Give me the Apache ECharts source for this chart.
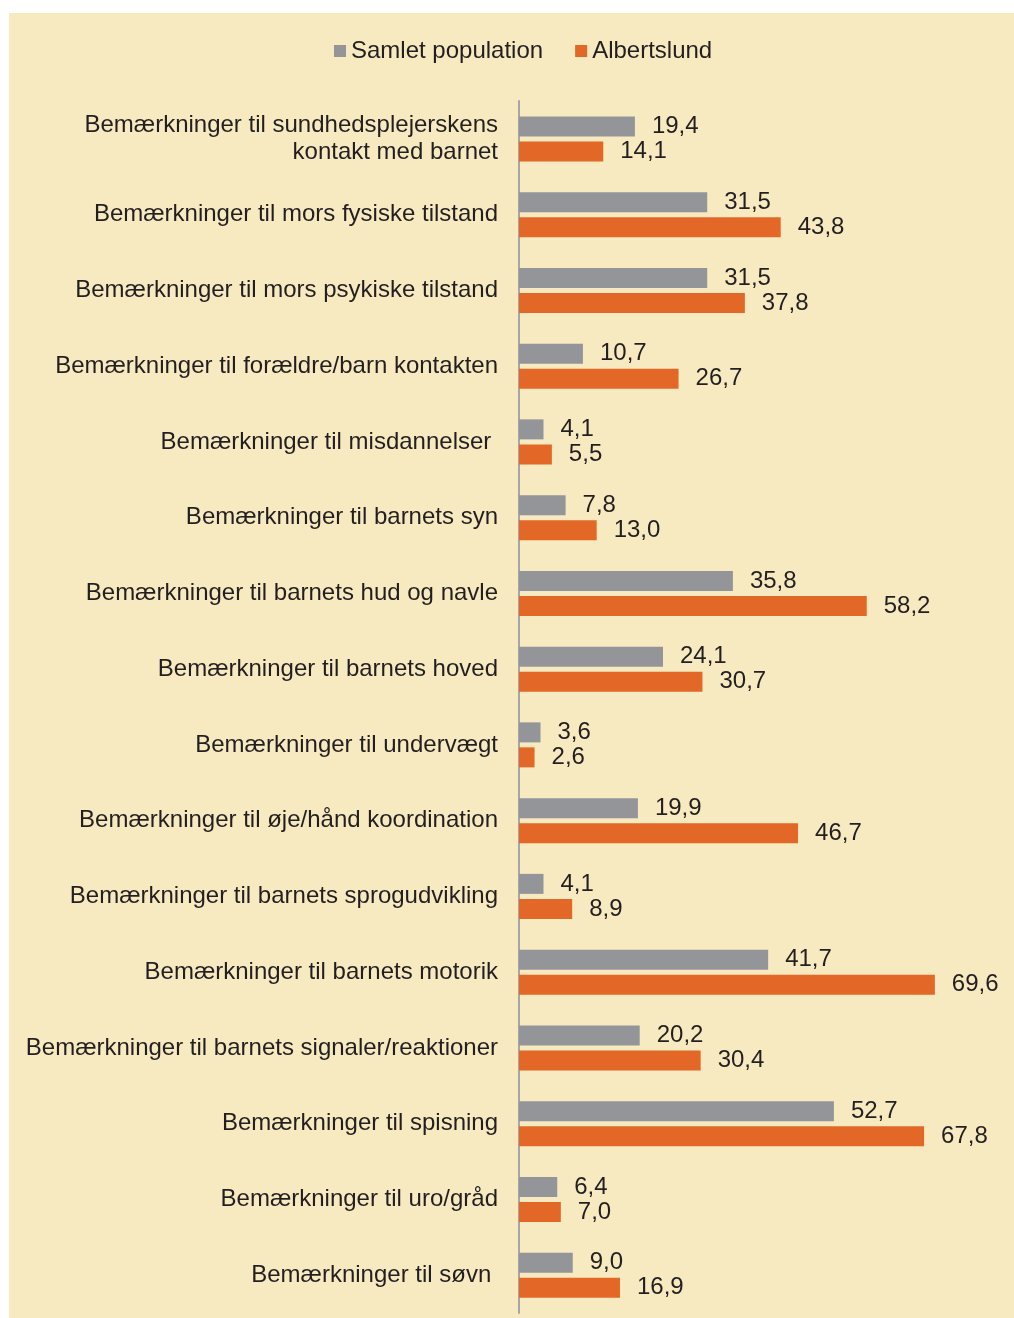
<!DOCTYPE html>
<html>
<head>
<meta charset="utf-8">
<script src="https://cdn.jsdelivr.net/npm/echarts@6/dist/echarts.min.js"></script>
<style>
  body { margin: 0; background: #fff; }
  #bg { position: absolute; left: 9px; top: 13px; width: 1005px; height: 1305px; background: #F7E9C0; }
  #chart { position: absolute; left: 0; top: 0; width: 1014px; height: 1318px; }
</style>
</head>
<body>
<div id="bg"></div>
<div id="chart"></div>
<script>
const categories = [
    "Bemærkninger til sundhedsplejerskens\nkontakt med barnet",
    "Bemærkninger til mors fysiske tilstand",
    "Bemærkninger til mors psykiske tilstand",
    "Bemærkninger til forældre/barn kontakten",
    "Bemærkninger til misdannelser ",
    "Bemærkninger til barnets syn",
    "Bemærkninger til barnets hud og navle",
    "Bemærkninger til barnets hoved",
    "Bemærkninger til undervægt",
    "Bemærkninger til øje/hånd koordination",
    "Bemærkninger til barnets sprogudvikling",
    "Bemærkninger til barnets motorik",
    "Bemærkninger til barnets signaler/reaktioner",
    "Bemærkninger til spisning",
    "Bemærkninger til uro/gråd",
    "Bemærkninger til søvn "
];
const samlet = [19.4, 31.5, 31.5, 10.7, 4.1, 7.8, 35.8, 24.1, 3.6, 19.9, 4.1, 41.7, 20.2, 52.7, 6.4, 9.0];
const albertslund = [14.1, 43.8, 37.8, 26.7, 5.5, 13.0, 58.2, 30.7, 2.6, 46.7, 8.9, 69.6, 30.4, 67.8, 7.0, 16.9];

const chart = echarts.init(document.getElementById("chart"));

const textColor = "#231F20";
const font = "'Liberation Sans', Arial, sans-serif";

const valueLabel = {
    show: true,
    position: "right",
    distance: 17,
    color: textColor,
    fontFamily: font,
    fontSize: 24,
    formatter: p => p.value.toFixed(1).replace(".", ",")
};

chart.setOption({
    backgroundColor: "transparent",
    animation: false,
    textStyle: { fontFamily: font },
    legend: {
        top: 34,
        left: 329,
        itemWidth: 12,
        itemHeight: 12,
        itemGap: 32,
        icon: "rect",
        textStyle: { color: textColor, fontSize: 24, fontFamily: font },
        data: ["Samlet population", "Albertslund"]
    },
    grid: { left: 519, top: 101, width: 478, height: 1212, containLabel: false },
    xAxis: {
        type: "value",
        min: 0,
        max: 80,
        show: false
    },
    yAxis: {
        type: "category",
        inverse: true,
        data: categories,
        axisLine: { show: true, lineStyle: { color: "#A6A6A6", width: 2 } },
        axisTick: { show: false },
        axisLabel: {
            margin: 21,
            color: textColor,
            fontSize: 24,
            fontFamily: font,
            lineHeight: 27
        }
    },
    series: [
        {
            name: "Samlet population",
            type: "bar",
            data: samlet,
            barWidth: 20,
            barGap: "25%",
            itemStyle: { color: "#939598" },
            label: valueLabel
        },
        {
            name: "Albertslund",
            type: "bar",
            data: albertslund,
            barWidth: 20,
            itemStyle: { color: "#E36726" },
            label: valueLabel
        }
    ]
});
</script>
</body>
</html>
